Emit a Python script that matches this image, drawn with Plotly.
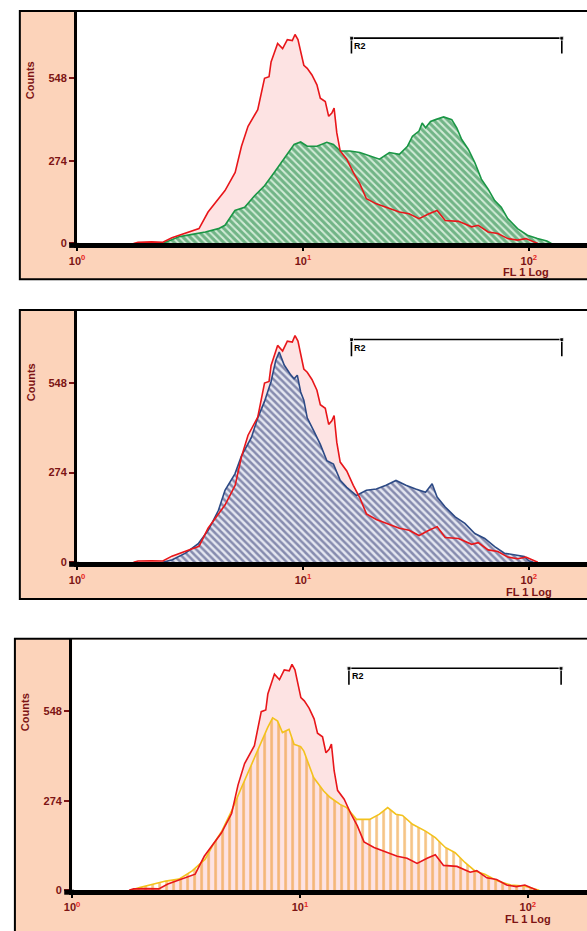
import numpy as np
import plotly.graph_objects as go

W, H = 587, 931
YMAX = 770
y_tickvals = [0, 274, 548]
x_tickvals = [1, 10, 100]
x_exponents = ["0", "1", "2"]
gate_lo, gate_hi = 16.4, 140.0
gate_label = "R2"
x_title = "FL 1 Log"
y_title = "Counts"

# Control histogram (red) - log10(FL1) positions and counts
red_logx = [0.25, 0.27, 0.33, 0.38, 0.42, 0.48, 0.54, 0.58, 0.626, 0.655, 0.70, 0.728, 0.757, 0.80,
            0.83, 0.85, 0.859, 0.888, 0.91, 0.931, 0.953, 0.965, 0.978, 0.99, 1.004, 1.019, 1.04,
            1.062, 1.077, 1.099, 1.114, 1.128, 1.138, 1.15, 1.165, 1.194, 1.223, 1.252, 1.281,
            1.325, 1.368, 1.427, 1.47, 1.514, 1.558, 1.594, 1.63, 1.689, 1.747, 1.776, 1.82,
            1.863, 1.907, 1.95, 1.987, 2.02, 2.04]
red_counts = [0, 4, 5, 4, 19, 33, 49, 104, 148, 175, 235, 322, 388, 443,
              547, 552, 601, 662, 645, 675, 672, 692, 675, 635, 590, 580, 558,
              525, 481, 470, 421, 432, 448, 366, 306, 279, 235, 197, 148,
              131, 120, 104, 98, 82, 98, 109, 76, 73, 55, 60, 38,
              33, 16, 11, 16, 5, 0]

# Panel 1 sample (green)
green_logx = [0.379, 0.451, 0.51, 0.568, 0.626, 0.655, 0.699, 0.742, 0.786, 0.83, 0.873, 0.917,
              0.946, 0.961, 0.99, 1.019, 1.062, 1.106, 1.135, 1.165, 1.208, 1.252, 1.296, 1.339,
              1.383, 1.427, 1.463, 1.485, 1.514, 1.528, 1.543, 1.565, 1.587, 1.623, 1.659, 1.681,
              1.703, 1.732, 1.761, 1.79, 1.82, 1.849, 1.878, 1.907, 1.95, 1.994, 2.038, 2.08, 2.1]
green_counts = [0, 22, 30, 38, 49, 60, 109, 120, 158, 191, 235, 279,
                312, 328, 336, 322, 322, 335, 328, 306, 306, 301, 290, 279,
                301, 295, 322, 355, 372, 399, 383, 404, 410, 419, 410, 383,
                344, 312, 268, 213, 180, 142, 120, 82, 49, 27, 16, 8, 0]

# Panel 2 sample (blue)
blue_logx = [0.38, 0.422, 0.48, 0.538, 0.582, 0.626, 0.655, 0.699, 0.728, 0.772, 0.80, 0.83,
             0.859, 0.88, 0.895, 0.917, 0.946, 0.961, 0.975, 0.99, 1.004, 1.019, 1.048, 1.077,
             1.106, 1.135, 1.165, 1.194, 1.237, 1.281, 1.325, 1.368, 1.412, 1.456, 1.499, 1.543,
             1.572, 1.594, 1.63, 1.674, 1.717, 1.761, 1.805, 1.849, 1.892, 1.936, 1.98, 2.0, 2.02]
blue_counts = [0, 8, 28, 58, 99, 159, 220, 270, 325, 381, 441, 491,
               552, 617, 642, 602, 572, 560, 571, 520, 495, 441, 401, 360,
               310, 300, 250, 229, 204, 220, 224, 235, 250, 235, 224, 214,
               240, 199, 169, 139, 119, 88, 73, 48, 28, 23, 18, 5, 0]

# Panel 3 sample (yellow)
yellow_logx = [0.26, 0.296, 0.354, 0.411, 0.469, 0.527, 0.584, 0.62, 0.657, 0.70, 0.743, 0.787,
               0.83, 0.858, 0.88, 0.902, 0.923, 0.952, 0.974, 1.003, 1.017, 1.06, 1.104, 1.133,
               1.176, 1.205, 1.248, 1.306, 1.349, 1.385, 1.421, 1.45, 1.494, 1.551, 1.594, 1.638,
               1.681, 1.724, 1.768, 1.811, 1.869, 1.926, 1.984, 2.03, 2.05]
yellow_counts = [0, 8, 18, 28, 34, 59, 95, 141, 181, 243, 314, 386,
                 457, 498, 528, 518, 483, 493, 447, 440, 426, 345, 304, 284,
                 263, 253, 217, 217, 233, 253, 233, 229, 202, 181, 161, 131,
                 115, 85, 59, 49, 28, 16, 13, 5, 0]

PEACH = "#fcd3ba"
MAROON = "#7d1414"
SUPRED = "#e8231e"
FONT = "Liberation Sans"

samples = [
    dict(logx=green_logx, counts=green_counts, line="#1a9645", bg="#d2ebd7",
         fg="#0f7d36", shape="\\", size=5, solidity=0.6),
    dict(logx=blue_logx, counts=blue_counts, line="#2d4a85", bg="#e4e6f0",
         fg="#27306c", shape="\\", size=5, solidity=0.5),
    dict(logx=yellow_logx, counts=yellow_counts, line="#f3c21d", bg="rgba(0,0,0,0)",
         fg="#ec8a0c", shape="|", size=7, solidity=0.38),
]

# pixel layout of each panel: box left, box top, box bottom, plot left, plot top, plot bottom, decade px
panels = [
    dict(bl=12, bt=11, bb=281, pl=70, pt=11, pb=245, dec=229, counts_y=81, fl_x=525, fl_y=274),
    dict(bl=12, bt=312, bb=603, pl=70, pt=312, pb=566, dec=229, counts_y=385, fl_x=528, fl_y=596),
    dict(bl=7, bt=643, bb=945, pl=65, pt=643, pb=896, dec=231, counts_y=717, fl_x=527, fl_y=925),
]

def px(x):
    return x / W

def py(y):
    return 1 - y / H

fig = go.Figure()
layout = dict(width=W, height=H, margin=dict(l=0, r=0, t=0, b=0),
              paper_bgcolor="white", plot_bgcolor="rgba(0,0,0,0)", showlegend=False,
              shapes=[], annotations=[])

x_ticktext = ["10<sup><span style='color:%s'>%s</span></sup>" % (SUPRED, e) for e in x_exponents]
tickfont = dict(family=FONT, size=11, color=MAROON, weight="bold")

for i, (p, s) in enumerate(zip(panels, samples)):
    suf = "" if i == 0 else str(i + 1)
    xa, ya = "x" + suf, "y" + suf
    # frame
    layout["shapes"].append(dict(type="rect", xref="paper", yref="paper",
                                 x0=px(p["bl"]), x1=1.2, y0=py(p["bb"]), y1=py(p["bt"]),
                                 fillcolor=PEACH, line=dict(color="black", width=2), layer="below"))
    layout["shapes"].append(dict(type="rect", xref="paper", yref="paper",
                                 x0=px(p["pl"]), x1=1.2, y0=py(p["pb"]), y1=py(p["pt"] + 1),
                                 fillcolor="white", line=dict(width=0), layer="below"))
    # left extension of x axis line
    layout["shapes"].append(dict(type="line", xref="paper", yref="paper",
                                 x0=px(p["pl"] - 8), x1=px(p["pl"] + 2), y0=py(p["pb"] + 2), y1=py(p["pb"] + 2),
                                 line=dict(color="black", width=5), layer="above"))
    layout["xaxis" + suf] = dict(type="log", range=[0, (W - p["pl"]) / p["dec"]],
                                 domain=[px(p["pl"]), 1], anchor=ya,
                                 showline=True, linecolor="black", linewidth=5,
                                 ticks="outside", ticklen=3, tickwidth=1.5, tickcolor="black",
                                 tickvals=x_tickvals, ticktext=x_ticktext, tickfont=tickfont,
                                 showgrid=False, zeroline=False, fixedrange=True)
    layout["yaxis" + suf] = dict(range=[0, YMAX], domain=[py(p["pb"]), py(p["pt"])], anchor=xa,
                                 showline=True, linecolor="black", linewidth=3,
                                 ticks="outside", ticklen=5, tickwidth=1.5, tickcolor=MAROON,
                                 tickvals=y_tickvals, tickfont=tickfont,
                                 showgrid=False, zeroline=False, fixedrange=True)

    rx = [10 ** v for v in red_logx]
    sx = [10 ** v for v in s["logx"]]
    fig.add_trace(go.Scatter(x=rx, y=red_counts, mode="lines", fill="tozeroy",
                             fillcolor="#fde3e3", line=dict(width=0, color="rgba(0,0,0,0)"),
                             xaxis=xa, yaxis=ya, hoverinfo="skip"))
    fig.add_trace(go.Scatter(x=sx, y=s["counts"], mode="lines", fill="tozeroy",
                             fillcolor=s["bg"],
                             fillpattern=dict(shape=s["shape"], fgcolor=s["fg"], bgcolor=s["bg"],
                                              size=s["size"], solidity=s["solidity"]),
                             line=dict(color=s["line"], width=1.6),
                             xaxis=xa, yaxis=ya))
    fig.add_trace(go.Scatter(x=rx, y=red_counts, mode="lines",
                             line=dict(color="#e8161a", width=1.6),
                             xaxis=xa, yaxis=ya))
    # gate R2
    g_top = 0.883 * YMAX
    g_bot = 0.817 * YMAX
    fig.add_trace(go.Scatter(x=[gate_lo, gate_lo, gate_hi, gate_hi], y=[g_bot, g_top, g_top, g_bot],
                             mode="lines+markers",
                             line=dict(color="black", width=1.6),
                             marker=dict(symbol="square", size=[0, 4, 4, 0], color="black"),
                             xaxis=xa, yaxis=ya))
    layout["annotations"].append(dict(text=gate_label, xref=xa, yref=ya,
                                      x=np.log10(gate_lo), y=g_top, xanchor="left", yanchor="top",
                                      xshift=1, yshift=-1, showarrow=False,
                                      font=dict(family=FONT, size=9, color="black", weight="bold")))
    layout["annotations"].append(dict(text=y_title, xref="paper", yref="paper",
                                      x=px(p["bl"] + 11), y=py(p["counts_y"]), textangle=-90,
                                      showarrow=False, xanchor="center", yanchor="middle",
                                      font=dict(family=FONT, size=11, color=MAROON, weight="bold")))
    layout["annotations"].append(dict(text=x_title, xref="paper", yref="paper",
                                      x=px(p["fl_x"]), y=py(p["fl_y"]),
                                      showarrow=False, xanchor="center", yanchor="middle",
                                      font=dict(family=FONT, size=11, color=MAROON, weight="bold")))

fig.update_layout(**layout)
fig.write_html("out.html",
               config={"displayModeBar": False},
               post_script="document.documentElement.style.margin='0px';"
                           "document.body.style.margin='0px';"
                           "document.body.style.padding='0px';"
                           "document.documentElement.style.overflow='hidden';"
                           "document.body.style.overflow='hidden';"
                           "var gd=document.getElementById('{plot_id}');"
                           "gd.style.position='fixed';gd.style.left='0px';gd.style.top='0px';")
